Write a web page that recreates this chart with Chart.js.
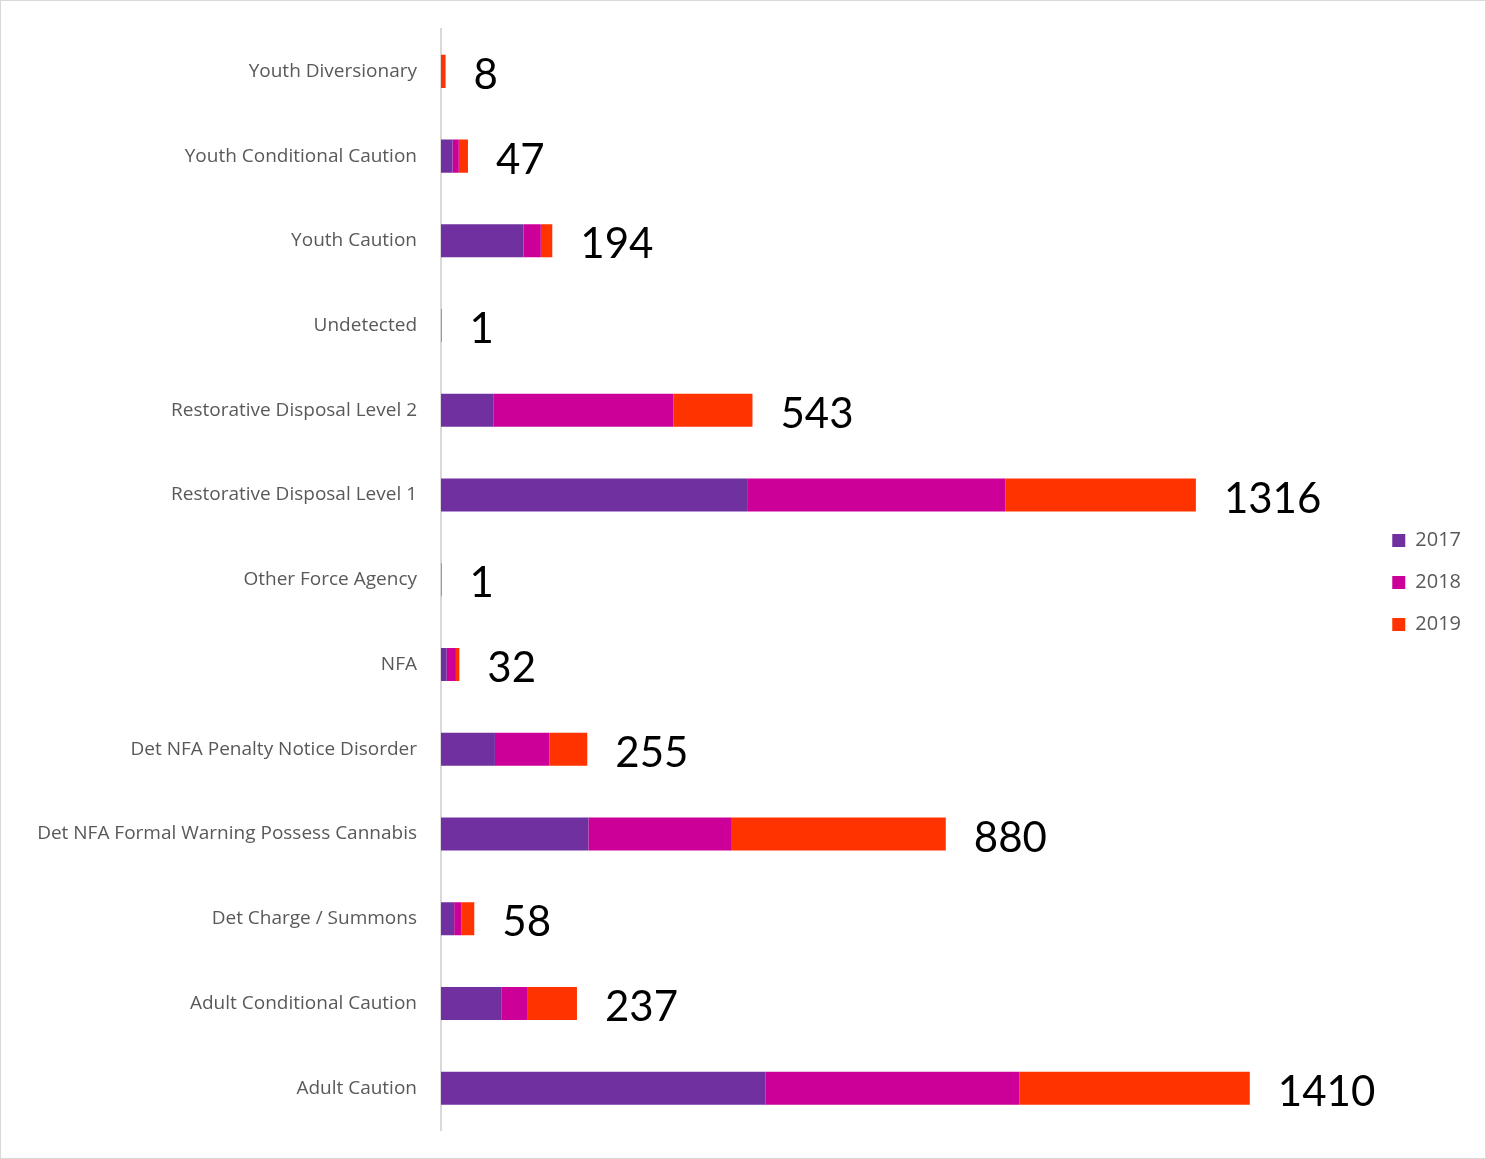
<!DOCTYPE html>
<html lang="en">
<head>
  <meta charset="UTF-8" />
  <title>Outcomes by year</title>
  <script src="https://cdn.jsdelivr.net/npm/chart.js"></script>
  <style>
    body {
      margin: 0;
      padding: 0;
      background: #fff;
    }

    .chart-box {
      width: 1484px;
      height: 1157px;
      border: 1px solid #d9d9d9;
      background: #fff;
    }
  </style>
</head>
<body>
  <div class="chart-box">
    <canvas id="outcomeChart"></canvas>
  </div>

  <script>
    const categories = [
      'Youth Diversionary',
      'Youth Conditional Caution',
      'Youth Caution',
      'Undetected',
      'Restorative Disposal Level 2',
      'Restorative Disposal Level 1',
      'Other Force Agency',
      'NFA',
      'Det NFA Penalty Notice Disorder',
      'Det NFA Formal Warning Possess Cannabis',
      'Det Charge / Summons',
      'Adult Conditional Caution',
      'Adult Caution'
    ];

    const years = ['2017', '2018', '2019'];
    const values2017 = [0, 20, 144, 0, 92, 535, 0, 10, 94, 257, 23, 105, 566];
    const values2018 = [0, 11, 30, 0, 313, 449, 0, 16, 95, 250, 13, 45, 442];
    const values2019 = [8, 16, 20, 1, 138, 332, 1, 6, 66, 373, 22, 87, 402];
    const colors = ['#7030a0', '#cc0099', '#ff3300'];

    const totals = categories.map((c, i) => values2017[i] + values2018[i] + values2019[i]);

    // draws the total at the end of each stacked bar
    const totalLabels = {
      id: 'totalLabels',
      afterDatasetsDraw(chart) {
        const ctx = chart.ctx;
        const lastMeta = chart.getDatasetMeta(chart.data.datasets.length - 1);
        ctx.save();
        ctx.fillStyle = '#000';
        ctx.font = '42px Lato, sans-serif';
        ctx.textAlign = 'left';
        ctx.textBaseline = 'middle';
        lastMeta.data.forEach((bar, i) => {
          ctx.fillText(String(totals[i]), bar.x + 28, bar.y + 4);
        });
        ctx.restore();
      }
    };

    new Chart(document.getElementById('outcomeChart'), {
      type: 'bar',
      data: {
        labels: categories,
        datasets: [
          { label: years[0], data: values2017, backgroundColor: colors[0] },
          { label: years[1], data: values2018, backgroundColor: colors[1] },
          { label: years[2], data: values2019, backgroundColor: colors[2] }
        ]
      },
      options: {
        indexAxis: 'y',
        responsive: true,
        maintainAspectRatio: false,
        animation: false,
        datasets: {
          bar: { barPercentage: 0.39, categoryPercentage: 1 }
        },
        layout: {
          padding: { left: 18, top: 28, bottom: 22, right: 14 }
        },
        scales: {
          x: {
            stacked: true,
            min: 0,
            max: 1620,
            display: false
          },
          y: {
            stacked: true,
            grid: { display: false },
            border: { display: true, color: '#d9d9d9', width: 2 },
            ticks: {
              color: '#595959',
              font: { family: 'Open Sans', size: 19 },
              padding: 16
            },
            afterFit(scale) {
              scale.width = 422;
            }
          }
        },
        plugins: {
          legend: {
            position: 'right',
            labels: {
              color: '#595959',
              font: { family: 'Open Sans', size: 20 },
              boxWidth: 13,
              boxHeight: 13,
              padding: 22
            }
          },
          tooltip: { enabled: false }
        }
      },
      plugins: [totalLabels]
    });
  </script>
</body>
</html>
